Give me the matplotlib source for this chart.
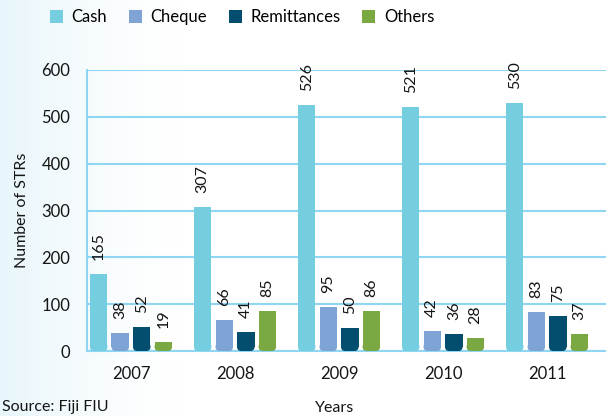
import numpy as np
import matplotlib.pyplot as plt
from matplotlib.patches import FancyBboxPatch, Patch

plt.rcParams['font.family'] = ['Lato', 'DejaVu Sans']

years = ['2007', '2008', '2009', '2010', '2011']
series = ['Cash', 'Cheque', 'Remittances', 'Others']
cash = [165, 307, 526, 521, 530]
cheque = [38, 66, 95, 42, 83]
remittances = [52, 41, 50, 36, 75]
others = [19, 85, 86, 28, 37]
colors = ['#74cee0', '#80a3d6', '#034e6e', '#7aa842']

grid_color = '#8fd6f2'
text_color = '#151515'


def rounded_bar(ax, x, h, w, color, rx, ry):
    # square top, rounded bottom
    ax.bar(x, h - ry, width=w, bottom=ry, color=color, zorder=3)
    p = FancyBboxPatch((x - w / 2, 0), w, 2 * ry,
                       boxstyle=f"round,pad=0,rounding_size={rx}",
                       mutation_aspect=ry / rx, color=color, lw=0, zorder=3)
    ax.add_patch(p)


fig = plt.figure(figsize=(6.06, 4.16), dpi=100)

# light background wash on the left
bg = fig.add_axes([0, 0, 1, 1], zorder=-1)
grad = np.linspace(0, 1, 300)
alpha = np.clip(1 - grad / 0.3, 0, 1) ** 1.5
img = np.ones((1, 300, 4))
img[..., 0] = 1 - 0.09 * alpha
img[..., 1] = 1 - 0.035 * alpha
img[..., 2] = 1 - 0.015 * alpha
bg.imshow(img, aspect='auto', extent=[0, 1, 0, 1])
bg.axis('off')

ax = fig.add_axes([87 / 606, 65 / 416, 1 - 87 / 606, 281 / 416])
ax.set_facecolor('none')

x = np.arange(len(years))
w = 0.168
pitch = 0.207
rx = 0.04
ry = 9.0
data = [cash, cheque, remittances, others]
for i, vals in enumerate(data):
    for j, v in enumerate(vals):
        xx = x[j] + (i - 1.5) * pitch
        rounded_bar(ax, xx, v, w, colors[i], rx, ry)
        ax.annotate(str(v), (xx, v), xytext=(0, 14), textcoords='offset pixels',
                    rotation=90, ha='center', va='bottom', fontsize=11.5,
                    color=text_color)

ax.set_xlim(-0.423, 4.567)
ax.set_ylim(0, 600)
ax.set_yticks(range(0, 601, 100))
ax.set_xticks(x)
ax.set_xticklabels(years)
ax.tick_params(axis='both', length=0, labelsize=12, colors=text_color)
ax.tick_params(axis='y', pad=12)
ax.tick_params(axis='x', pad=11)
ax.yaxis.grid(True, color=grid_color, lw=1.5, zorder=0)
ax.set_axisbelow(True)
for s in ['top', 'right']:
    ax.spines[s].set_visible(False)
for s in ['left', 'bottom']:
    ax.spines[s].set_color(grid_color)
    ax.spines[s].set_linewidth(1.5)

fig.text(22 / 606, 1 - 210 / 416, 'Number of STRs', rotation=90,
         ha='center', va='center', fontsize=11.5, color=text_color)
fig.text(335 / 606, 1 - 408 / 416, 'Years', ha='center', va='center',
         fontsize=11.5, color=text_color)
fig.text(2 / 606, 1 - 407 / 416, 'Source: Fiji FIU', ha='left', va='center',
         fontsize=11.5, color=text_color)

handles = [Patch(facecolor=c, edgecolor='none') for c in colors]
fig.legend(handles, series, loc='center', bbox_to_anchor=(242 / 606, 1 - 17 / 416),
           ncol=4, frameon=False, fontsize=12, handlelength=0.8, handleheight=0.8,
           handletextpad=0.5, columnspacing=1.3, borderpad=0)

fig.savefig('out.png', dpi=100)
